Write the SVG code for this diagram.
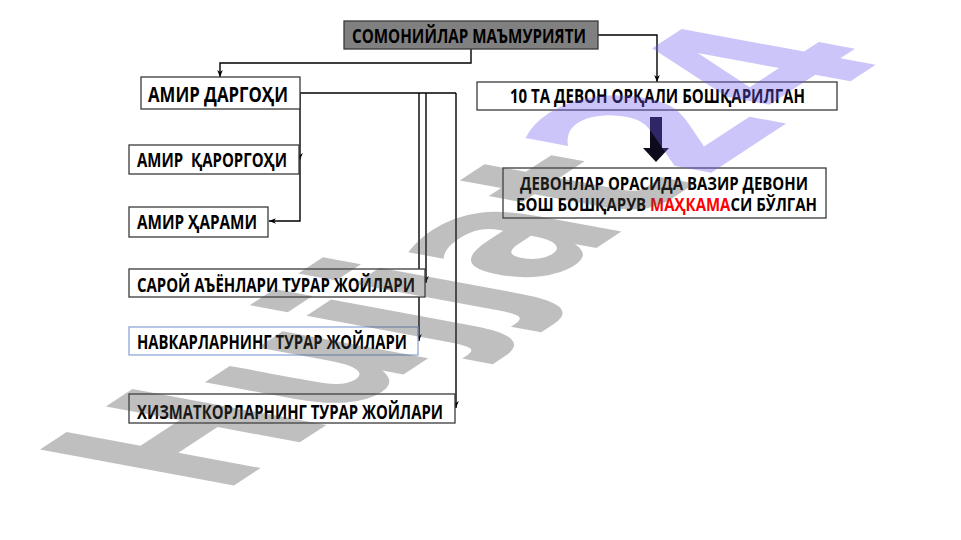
<svg xmlns="http://www.w3.org/2000/svg" width="961" height="540" viewBox="0 0 961 540">
<defs>
<style>
.box{fill:#ffffff;stroke:#3a3a3a;stroke-width:1.3}
.t{font-family:"Open Sans","Noto Sans","DejaVu Sans",sans-serif;font-weight:700;font-size:19px;fill:#000000;white-space:pre}
.c{fill:none;stroke:#000000;stroke-width:1.4}
</style>
<marker id="arr" markerUnits="userSpaceOnUse" markerWidth="7" markerHeight="7" viewBox="0 0 10 10" refX="10" refY="5" orient="auto">
<path d="M0,1 L10,5 L0,9 L3,5 z" fill="#000000"/>
</marker>
</defs>
<rect width="961" height="540" fill="#ffffff"/>

<g id="connectors">
<path class="c" d="M471,49 V63 H220 V77" marker-end="url(#arr)"/>
<path class="c" d="M598,35 H657 V82" marker-end="url(#arr)"/>
<path class="c" d="M300,93 H456"/>
<path class="c" d="M300,93 V160" marker-end="url(#arr)"/>
<path class="c" d="M300,160 V221 H269" marker-end="url(#arr)"/>
<path class="c" d="M426,93 V283" marker-end="url(#arr)"/>
<path class="c" d="M419,93 V341" marker-end="url(#arr)"/>
<path class="c" d="M456,93 V408" marker-end="url(#arr)"/>
<path id="bigArrow" d="M650,117 H662 V148 H669 L656,162 L643,148 H650 Z" fill="#0d0a1c"/>
</g>

<g id="n-somoniylar">
<rect x="344" y="21" width="254" height="28" fill="#808080" stroke="#3a3a3a" stroke-width="1.3"/>
<text class="t" x="352" y="43" textLength="234" lengthAdjust="spacingAndGlyphs">СОМОНИЙЛАР МАЪМУРИЯТИ</text>
</g>
<g id="n-amir-dargohi">
<rect class="box" x="141" y="77" width="159" height="32"/>
<text class="t" x="148" y="102" style="font-size:21px" textLength="140" lengthAdjust="spacingAndGlyphs">АМИР ДАРГОҲИ</text>
</g>
<g id="n-10-devon">
<rect class="box" x="477" y="82" width="360" height="28"/>
<text class="t" x="510" y="103" textLength="295" lengthAdjust="spacingAndGlyphs">10 ТА ДЕВОН ОРҚАЛИ БОШҚАРИЛГАН</text>
</g>
<g id="n-qarorgohi">
<rect class="box" x="129" y="145" width="170" height="29"/>
<text class="t" x="137" y="167" textLength="150" lengthAdjust="spacingAndGlyphs">АМИР  ҚАРОРГОҲИ</text>
</g>
<g id="n-harami">
<rect class="box" x="129" y="207" width="139" height="30"/>
<text class="t" x="137" y="229" textLength="120" lengthAdjust="spacingAndGlyphs">АМИР ҲАРАМИ</text>
</g>
<g id="n-saroy">
<rect class="box" x="129" y="269" width="296" height="28"/>
<text class="t" x="137" y="292" textLength="278" lengthAdjust="spacingAndGlyphs">САРОЙ АЪЁНЛАРИ ТУРАР ЖОЙЛАРИ</text>
</g>
<g id="n-navkar">
<rect x="129" y="327" width="289" height="28" fill="#ffffff" stroke="#8ea9d6" stroke-width="1.3"/>
<text class="t" x="137" y="349" textLength="270" lengthAdjust="spacingAndGlyphs">НАВКАРЛАРНИНГ ТУРАР ЖОЙЛАРИ</text>
</g>
<g id="n-xizmat">
<rect class="box" x="129" y="394" width="326" height="29"/>
<text class="t" x="137" y="419" textLength="306" lengthAdjust="spacingAndGlyphs">ХИЗМАТКОРЛАРНИНГ ТУРАР ЖОЙЛАРИ</text>
</g>
<g id="n-devonlar">
<rect class="box" x="503" y="168" width="323" height="50"/>
<text class="t" x="520" y="190" style="font-size:18px" textLength="288" lengthAdjust="spacingAndGlyphs">ДЕВОНЛАР ОРАСИДА ВАЗИР ДЕВОНИ</text>
<text class="t" x="516" y="211" style="font-size:18px" textLength="301" lengthAdjust="spacingAndGlyphs">БОШ БОШҚАРУВ <tspan fill="#ff0000">МАҲКАМА</tspan>СИ БЎЛГАН</text>
</g>

<g id="watermark" opacity="0.35" font-family="DejaVu Sans, Verdana, sans-serif" font-weight="700" font-size="105">
<text transform="matrix(1.347 -0.883 2.534 0.4695 221 494)"><tspan fill="#4b4b4b">Hujjat</tspan><tspan fill="#705cf0">24</tspan></text>
</g>
</svg>
